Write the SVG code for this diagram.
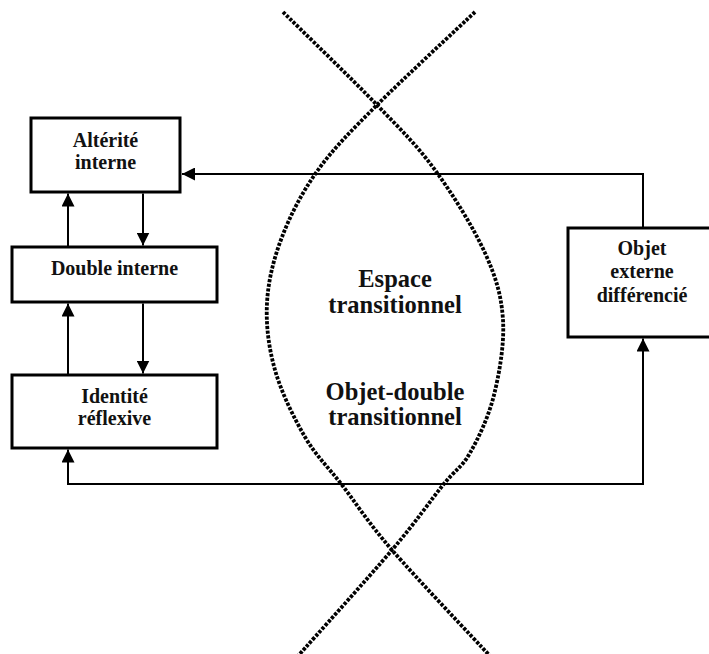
<svg xmlns="http://www.w3.org/2000/svg" width="709" height="654" viewBox="0 0 709 654">
<style>
.box{fill:#fff;stroke:#000;stroke-width:3}
.lbl{font-family:'Liberation Serif',serif;font-weight:700;font-size:20px;fill:#111;text-anchor:middle}
.big{font-size:24.5px}
.conn{fill:none;stroke:#000;stroke-width:2}
.dot{fill:none;stroke:#000;stroke-width:3.8;stroke-dasharray:3.2 1.5}
</style>
<defs>
<marker id="ah" markerUnits="userSpaceOnUse" markerWidth="13" markerHeight="13" refX="12" refY="6" orient="auto-start-reverse" viewBox="0 0 12 12">
<path d="M0,0 L12,6 L0,12 z" fill="#000"/>
</marker>
</defs>
<rect width="709" height="654" fill="#fff"/>
<g id="connectors">
<path class="conn" d="M643,228 L643,174 L182,174" marker-end="url(#ah)"/>
<path class="conn" d="M68,247 L68,193.5" marker-end="url(#ah)"/>
<path class="conn" d="M143,193.5 L143,245.5" marker-end="url(#ah)"/>
<path class="conn" d="M68,375 L68,303.5" marker-end="url(#ah)"/>
<path class="conn" d="M143,303.5 L143,373.5" marker-end="url(#ah)"/>
<path class="conn" d="M68,449.5 L68,484 L643,484 L643,338.5" marker-start="url(#ah)" marker-end="url(#ah)"/>
</g>
<g id="alterite">
<rect class="box" x="31" y="118" width="149" height="74"/>
<text class="lbl" x="105.5" y="147">Altérité</text>
<text class="lbl" x="105.5" y="169">interne</text>
</g>
<g id="double">
<rect class="box" x="12" y="247" width="205" height="55"/>
<text class="lbl" x="114.5" y="275">Double interne</text>
</g>
<g id="identite">
<rect class="box" x="12" y="375" width="205" height="73"/>
<text class="lbl" x="114.5" y="403">Identité</text>
<text class="lbl" x="114.5" y="425">réflexive</text>
</g>
<g id="objet">
<rect class="box" x="568" y="228" width="150" height="109"/>
<text class="lbl" x="642" y="255">Objet</text>
<text class="lbl" x="642" y="278">externe</text>
<text class="lbl" x="642" y="302">différencié</text>
</g>
<g id="espace">
<path class="dot" d="M475,12 C458.7,27.5 403.2,78.7 377,105 C350.8,131.3 333.8,148 318,170 C302.2,192 290.5,214.8 282,237 C273.5,259.2 268.2,280.8 267,303 C265.8,325.2 268.7,347.7 275,370 C281.3,392.3 293.8,417.8 305,437 C316.2,456.2 327.5,466.2 342,485 C356.5,503.8 367.3,521.5 392,550 C416.7,578.5 473.7,638.3 490,656"/>
<path class="dot" d="M283,12 C298.7,27.5 351.7,78.7 377,105 C402.3,131.3 417,145.3 435,170 C453,194.7 473.7,228 485,253 C496.3,278 501.5,296.3 503,320 C504.5,343.7 499.5,372.8 494,395 C488.5,417.2 478.5,438 470,453 C461.5,468 456,468.8 443,485 C430,501.2 416.2,521.5 392,550 C367.8,578.5 313.7,638.3 298,656"/>
<text class="lbl big" x="395" y="287">Espace</text>
<text class="lbl big" x="395" y="313">transitionnel</text>
<text class="lbl big" x="395" y="400">Objet-double</text>
<text class="lbl big" x="395" y="425">transitionnel</text>
</g>
</svg>
